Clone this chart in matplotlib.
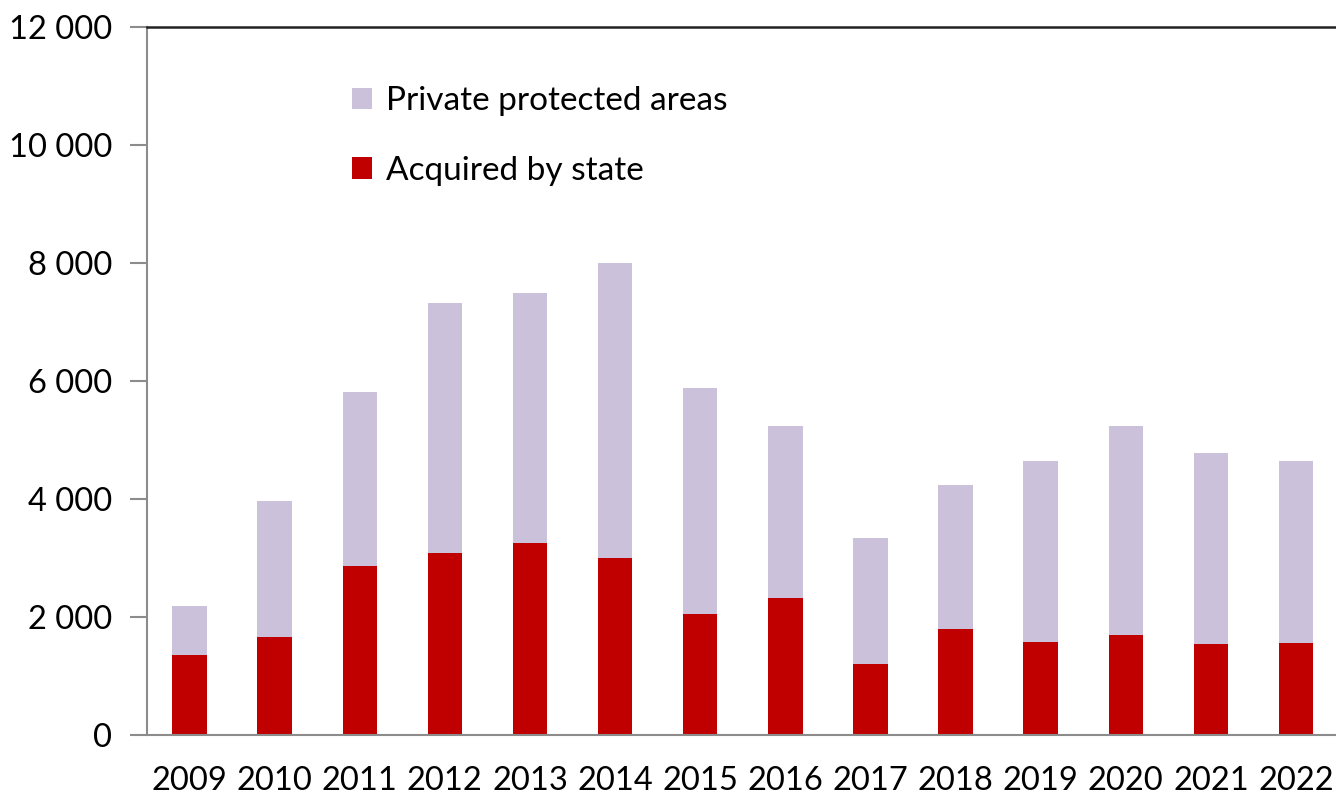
import matplotlib.pyplot as plt
from matplotlib.ticker import FuncFormatter

years = ["2009", "2010", "2011", "2012", "2013", "2014", "2015",
         "2016", "2017", "2018", "2019", "2020", "2021", "2022"]
total = [2190, 3966, 5814, 7328, 7492, 8006, 5876,
         5237, 3339, 4237, 4644, 5237, 4774, 4644]
state = [1361, 1656, 2864, 3085, 3260, 3000, 2056,
         2322, 1209, 1797, 1582, 1689, 1548, 1554]
private = [t - s for t, s in zip(total, state)]

RED = "#C00000"
LILAC = "#CCC1DA"
GREY = "#8C8C8C"

plt.rcParams['font.family'] = ['Lato', 'DejaVu Sans']

fig = plt.figure(figsize=(13.36, 7.96), dpi=100)
ax = fig.add_axes([0.110, 0.0766, 0.890, 0.8894])

x = list(range(len(years)))
w = 0.405
b1 = ax.bar(x, state, width=w, color=RED, label="Acquired by state")
b2 = ax.bar(x, private, width=w, bottom=state, color=LILAC,
            label="Private protected areas")

ax.set_xlim(-0.5, 13.47)
ax.set_ylim(0, 12000)
ax.set_yticks(range(0, 12001, 2000))
ax.yaxis.set_major_formatter(FuncFormatter(lambda v, p: f"{int(v):,}".replace(",", " ")))
ax.set_xticks(x)
ax.set_xticklabels(years)

ax.tick_params(axis="y", length=12, width=1.5, color=GREY, labelsize=23.5, pad=13)
ax.tick_params(axis="x", length=0, labelsize=23.5, pad=22)

ax.spines["right"].set_visible(False)
ax.spines["left"].set_color(GREY)
ax.spines["left"].set_linewidth(1.5)
ax.spines["bottom"].set_color(GREY)
ax.spines["bottom"].set_linewidth(1.5)
ax.spines["top"].set_color("#222222")
ax.spines["top"].set_linewidth(1.8)

ax.legend(handles=[b2, b1], loc="upper left", bbox_to_anchor=(0.161, 0.935),
          frameon=False, fontsize=24, handlelength=0.62, handleheight=0.62,
          handletextpad=0.4, labelspacing=1.18, borderaxespad=0)

fig.savefig("out.png", dpi=100)
